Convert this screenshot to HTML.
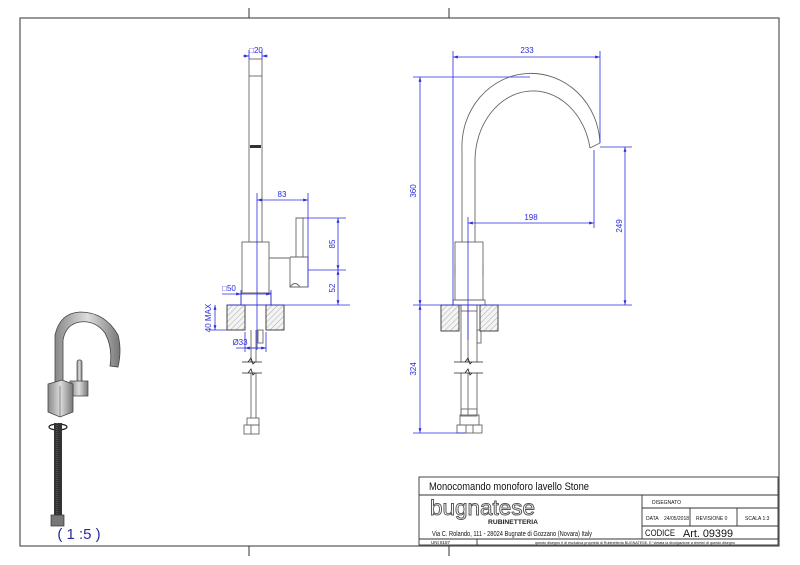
<!DOCTYPE html>
<html><head><meta charset="utf-8"><style>
html,body{margin:0;padding:0;background:#fff;}
svg{display:block;}
text{font-family:"Liberation Sans",sans-serif;}
.d{stroke:#2a2ae0;stroke-width:0.8;fill:none;}
.dt{fill:#2a2ae0;font-size:8px;}
.g{stroke:#666;stroke-width:0.9;fill:none;}
.k{stroke:#222;stroke-width:0.8;fill:none;}
.tb{font-family:"Liberation Sans Narrow","Liberation Sans",sans-serif;fill:#111;}
</style></head><body>
<svg width="800" height="565" viewBox="0 0 800 565" xmlns="http://www.w3.org/2000/svg">
<defs>
<pattern id="h" width="4" height="4" patternUnits="userSpaceOnUse" patternTransform="rotate(45)">
<rect width="4" height="4" fill="#f4f4f4"/><line x1="0" y1="0" x2="0" y2="4" stroke="#999" stroke-width="0.8"/></pattern>
<marker id="a" viewBox="0 0 10 10" refX="10" refY="5" markerWidth="6" markerHeight="6" orient="auto-start-reverse"><path d="M0,2L10,5L0,8z" fill="#2a2ae0"/></marker>
<linearGradient id="mg" x1="0" x2="1"><stop offset="0" stop-color="#888"/><stop offset="0.5" stop-color="#ddd"/><stop offset="1" stop-color="#777"/></linearGradient>
</defs>
<rect x="20" y="18" width="759" height="528" fill="none" stroke="#555" stroke-width="1.2"/>
<line x1="249" y1="8" x2="249" y2="18" stroke="#333"/><line x1="449" y1="8" x2="449" y2="18" stroke="#333"/>
<line x1="249" y1="546" x2="249" y2="556" stroke="#333"/><line x1="449" y1="546" x2="449" y2="556" stroke="#333"/>

<g class="g">
<rect x="249" y="59" width="13" height="183"/>
<line x1="249" y1="76" x2="262" y2="76"/>
<rect x="242" y="242" width="27" height="51"/>
<path d="M269 258H290V287H308V257H290"/>
<path d="M296 257V218H303V257"/>
<path d="M290 287 Q295 280 300 287"/>
<rect x="241" y="293" width="30" height="12"/>
<line x1="251" y1="330" x2="251" y2="362"/><line x1="256" y1="330" x2="256" y2="362"/>
<line x1="251" y1="373" x2="251" y2="418"/><line x1="256" y1="373" x2="256" y2="418"/>
<rect x="258" y="330" width="5" height="13"/>
<rect x="247" y="418" width="12" height="7"/>
<rect x="244" y="425" width="15" height="9"/>
<line x1="251" y1="425" x2="251" y2="434"/>
</g>
<rect x="250" y="145" width="11" height="3" fill="#333"/>
<path class="k" d="M242 362H262M242 373H262"/>
<path d="M248 362l3 -4l2 6l2 -2M248 373l3 -4l2 6l2 -2" stroke="#222" stroke-width="0.8" fill="none"/>
<rect x="227" y="305" width="18" height="25" fill="url(#h)" stroke="#333" stroke-width="0.9"/>
<rect x="266" y="305" width="18" height="25" fill="url(#h)" stroke="#333" stroke-width="0.9"/>
<g class="d">
<line x1="249" y1="50" x2="249" y2="59"/><line x1="262" y1="50" x2="262" y2="59"/>
<line x1="243" y1="56" x2="249" y2="56" marker-end="url(#a)"/><line x1="268" y1="56" x2="262" y2="56" marker-end="url(#a)"/>
<line x1="257" y1="193" x2="257" y2="350"/><line x1="308" y1="193" x2="308" y2="287"/>
<line x1="257" y1="200" x2="308" y2="200" marker-start="url(#a)" marker-end="url(#a)"/>
<line x1="303" y1="218" x2="346" y2="218"/><line x1="308" y1="270" x2="346" y2="270"/>
<line x1="338" y1="218" x2="338" y2="270" marker-start="url(#a)" marker-end="url(#a)"/>
<line x1="338" y1="270" x2="338" y2="305" marker-start="url(#a)" marker-end="url(#a)"/>
<line x1="228" y1="305" x2="350" y2="305"/>
<line x1="241" y1="290" x2="241" y2="305"/><line x1="271" y1="290" x2="271" y2="305"/>
<line x1="222" y1="294" x2="241" y2="294" marker-end="url(#a)"/><line x1="241" y1="294" x2="271" y2="294" marker-end="url(#a)"/>
<line x1="210" y1="330" x2="227" y2="330"/>
<line x1="215" y1="305" x2="215" y2="330" marker-start="url(#a)" marker-end="url(#a)"/>
<line x1="245" y1="332" x2="245" y2="352"/><line x1="266" y1="332" x2="266" y2="352"/>
<line x1="236" y1="348" x2="266" y2="348"/>
<line x1="245" y1="348" x2="266" y2="348" marker-start="url(#a)" marker-end="url(#a)"/>
</g>
<text class="dt" x="256" y="53" text-anchor="middle">□20</text>
<text class="dt" x="282" y="197" text-anchor="middle">83</text>
<text class="dt" x="229" y="291" text-anchor="middle">□50</text>
<text class="dt" x="240" y="345" text-anchor="middle">Ø33</text>
<text class="dt" transform="translate(335,244) rotate(-90)" text-anchor="middle">85</text>
<text class="dt" transform="translate(335,288) rotate(-90)" text-anchor="middle">52</text>
<text class="dt" transform="translate(211,318) rotate(-90)" text-anchor="middle">40 MAX</text>

<g class="g">
<path d="M462 242V150 A68 72 0 0 1 600 143"/>
<path d="M475 242V160 A58 70 0 0 1 590 148"/>
<line x1="590" y1="148" x2="600" y2="143"/>
<rect x="455" y="242" width="28" height="58"/>
<rect x="453" y="300" width="32" height="5"/>
<line x1="455" y1="265" x2="455" y2="275"/><line x1="483" y1="265" x2="483" y2="275"/>
<path d="M461 305V362M468 305V362M477 305V362M461 373V415M468 373V415M477 373V415"/>
<rect x="461" y="305" width="16" height="6"/>
<rect x="461" y="409" width="16" height="7"/>
<rect x="460" y="415" width="19" height="10"/>
<rect x="457" y="425" width="25" height="8"/>
<line x1="466" y1="425" x2="466" y2="433"/><line x1="473" y1="425" x2="473" y2="433"/>
<rect x="477" y="330" width="4" height="13"/>
</g>
<path class="k" d="M454 362H483M454 373H483"/>
<path d="M465 362l3 -4l2 6l2 -2M465 373l3 -4l2 6l2 -2" stroke="#222" stroke-width="0.8" fill="none"/>
<rect x="441" y="305" width="18" height="26" fill="url(#h)" stroke="#333" stroke-width="0.9"/>
<rect x="480" y="305" width="18" height="26" fill="url(#h)" stroke="#333" stroke-width="0.9"/>
<g class="d">
<line x1="453" y1="51" x2="453" y2="305"/><line x1="600" y1="51" x2="600" y2="143"/>
<line x1="453" y1="57" x2="600" y2="57" marker-start="url(#a)" marker-end="url(#a)"/>
<line x1="413" y1="77" x2="530" y2="77"/>
<line x1="420" y1="77" x2="420" y2="305" marker-start="url(#a)" marker-end="url(#a)"/>
<line x1="420" y1="305" x2="420" y2="433" marker-start="url(#a)" marker-end="url(#a)"/>
<line x1="413" y1="433" x2="465" y2="433"/>
<line x1="413" y1="305" x2="632" y2="305"/>
<line x1="600" y1="147" x2="632" y2="147"/>
<line x1="625" y1="147" x2="625" y2="305" marker-start="url(#a)" marker-end="url(#a)"/>
<line x1="468" y1="217" x2="468" y2="340"/><line x1="594" y1="150" x2="594" y2="228"/>
<line x1="468" y1="223" x2="594" y2="223" marker-start="url(#a)" marker-end="url(#a)"/>
</g>
<text class="dt" x="527" y="53" text-anchor="middle">233</text>
<text class="dt" x="531" y="220" text-anchor="middle">198</text>
<text class="dt" transform="translate(416,191) rotate(-90)" text-anchor="middle">360</text>
<text class="dt" transform="translate(416,369) rotate(-90)" text-anchor="middle">324</text>
<text class="dt" transform="translate(622,226) rotate(-90)" text-anchor="middle">249</text>

<g>
<path d="M55 385V335 Q60 313 80 312 Q105 312 118 335 Q122 350 118 367 L110 366 Q113 348 105 333 Q95 320 80 322 Q66 324 63 340V385Z" fill="url(#mg)" stroke="#444" stroke-width="0.8"/>
<rect x="77" y="360" width="5" height="24" rx="2" fill="url(#mg)" stroke="#444" stroke-width="0.7"/>
<path d="M70 381H88V396H70Z" fill="url(#mg)" stroke="#444" stroke-width="0.7"/>
<path d="M48 384L62 380L73 384V412L60 417L48 412Z" fill="url(#mg)" stroke="#444" stroke-width="0.8"/>
<line x1="60" y1="386" x2="60" y2="417" stroke="#555" stroke-width="0.6"/>
<ellipse cx="58" cy="427" rx="9" ry="3" fill="none" stroke="#222" stroke-width="1.2"/>
<rect x="54" y="423" width="8" height="94" fill="#333"/>
<line x1="57" y1="423" x2="57" y2="517" stroke="#777" stroke-width="0.7" stroke-dasharray="1 1"/>
<rect x="51" y="515" width="13" height="11" fill="#777" stroke="#333" stroke-width="0.7"/>
</g>
<text x="79" y="539" text-anchor="middle" font-size="15" fill="#2a2aa0">( 1 :5 )</text>

<g stroke="#333" stroke-width="0.9" fill="none">
<rect x="419" y="477" width="359" height="68"/>
<line x1="419" y1="495" x2="778" y2="495"/>
<line x1="642" y1="495" x2="642" y2="539"/>
<line x1="642" y1="508" x2="778" y2="508"/>
<line x1="642" y1="526" x2="778" y2="526"/>
<line x1="419" y1="539" x2="778" y2="539"/>
<line x1="690" y1="508" x2="690" y2="526"/>
<line x1="737" y1="508" x2="737" y2="526"/>
<line x1="477" y1="539" x2="477" y2="545"/>
</g>
<text class="tb" x="429" y="490" font-size="11" textLength="160" lengthAdjust="spacingAndGlyphs">Monocomando monoforo lavello Stone</text>
<text x="430" y="515" font-size="21" fill="none" stroke="#555" stroke-width="0.9" textLength="105" lengthAdjust="spacingAndGlyphs">bugnatese</text>
<text x="488" y="524" font-size="6.5" font-weight="bold" fill="#222" textLength="50" lengthAdjust="spacingAndGlyphs">RUBINETTERIA</text>
<text class="tb" x="432" y="536" font-size="7" textLength="160" lengthAdjust="spacingAndGlyphs">Via C. Rolando, 111 - 28024 Bugnate di Gozzano (Novara) Italy</text>
<text class="tb" x="431" y="544" font-size="4.5">UNI 8187</text>
<text class="tb" x="535" y="544" font-size="3.5" textLength="200" lengthAdjust="spacingAndGlyphs">questo disegno è di esclusiva proprietà di Rubinetteria BUGNATESE. E' vietata la divulgazione a termini di questo disegno</text>
<text class="tb" x="652" y="504" font-size="5">DISEGNATO</text>
<text class="tb" x="646" y="520" font-size="5">DATA</text>
<text class="tb" x="664" y="520" font-size="5">24/05/2018</text>
<text class="tb" x="696" y="520" font-size="5">REVISIONE 0</text>
<text class="tb" x="745" y="520" font-size="5">SCALA 1:3</text>
<text class="tb" x="645" y="536" font-size="9" textLength="30" lengthAdjust="spacingAndGlyphs">CODICE</text>
<text class="tb" x="683" y="537" font-size="11" textLength="50" lengthAdjust="spacingAndGlyphs">Art. 09399</text>
</svg>
</body></html>
